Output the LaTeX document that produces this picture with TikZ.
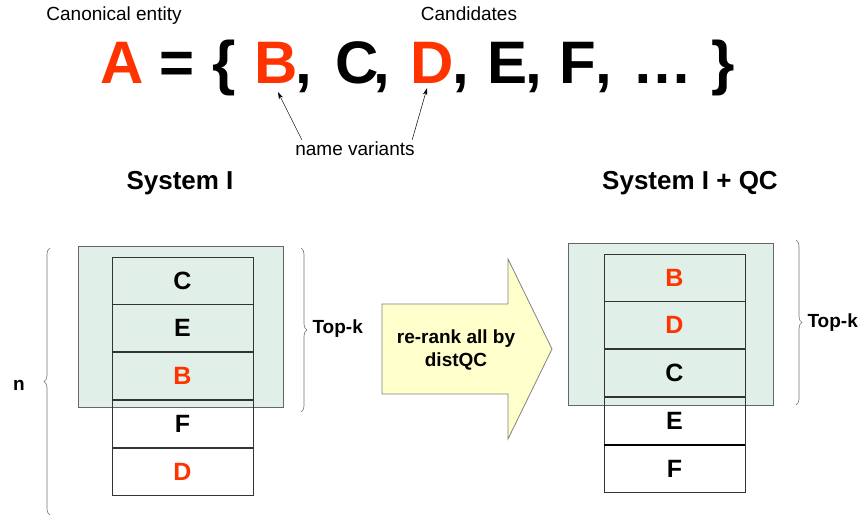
\documentclass[tikz,border=0pt]{standalone}
\usepackage{fontspec}
\setmainfont{Liberation Sans}
\usetikzlibrary{positioning,calc,decorations.pathreplacing,arrows.meta}

\definecolor{candred}{HTML}{FF3300}
\definecolor{boxgreen}{HTML}{E0EFE7}
\definecolor{arrowyellow}{HTML}{FFFFCC}

\begin{document}
\begin{tikzpicture}[x=1pt, y=-1pt,
    big/.style={font=\fontsize{60}{60}\selectfont\bfseries, inner sep=0pt, anchor=base},
    small/.style={font=\fontsize{19}{23}\selectfont},
    smallbold/.style={font=\fontsize{19}{23}\selectfont\bfseries},
    title/.style={font=\fontsize{26}{30}\selectfont\bfseries},
    cell/.style={draw=black!80, line width=0.8pt, minimum width=141pt, minimum height=47pt,
        inner sep=0pt, font=\fontsize{25}{25}\selectfont\bfseries},
    topbox/.style={draw=black!60, fill=boxgreen, line width=0.8pt,
        minimum width=205pt, minimum height=161pt},
    bracket/.style={draw=black!55, line width=0.6pt, decorate, decoration={brace, amplitude=6pt}},
    pointer/.style={-{Stealth[length=7pt,width=4.5pt]}, line width=0.5pt}
]
    \useasboundingbox (0,0) rectangle (863,517);

    %--------------------%
    % Parameters
    %--------------------%
    \def\base{83}
    \def\leftx{182.5}
    \def\rightx{674.5}

    %--------------------%
    % Candidate Set
    %--------------------%
    \node[small, anchor=base] (canon) at (114,20) {Canonical entity};
    \node[small, anchor=base] (cand) at (469,20) {Candidates};

    \node[big, text=candred] (A) at (122,\base) {A};
    \node[big] (eq) at (177,\base) {=};
    \node[big] (lbr) at (224,\base) {\{};
    \node[big, text=candred] (B) at (276,\base) {B};
    \node[big] (c1) at (304,\base) {,};
    \node[big] (C) at (357,\base) {C};
    \node[big] (c2) at (382,\base) {,};
    \node[big, text=candred] (D) at (432,\base) {D};
    \node[big] (c3) at (461,\base) {,};
    \node[big] (E) at (508,\base) {E};
    \node[big] (c4) at (534,\base) {,};
    \node[big] (F) at (578,\base) {F};
    \node[big] (c5) at (604,\base) {,};
    \node[big] (dots) at (662,\base) {…};
    \node[big] (rbr) at (723,\base) {\}};

    % Name variants
    \node[small, anchor=base] (variants) at (355,155) {name variants};
    \draw[pointer] ($(variants.north west)+(10,2)$) -- ($(B.south)+(2,9)$);
    \draw[pointer] ($(variants.north east)+(-6,2)$) -- ($(D.south)+(-5,5)$);

    %--------------------%
    % System I
    %--------------------%
    \node[title] (sys) at (180,183) {System I};
    \node[topbox] (lbox) at (180.5,326.5) {};
    \node[cell] (lc1) at (\leftx,280.5) {C};
    \node[cell, below=0pt of lc1] (lc2) {E};
    \node[cell, below=0pt of lc2, text=candred] (lc3) {B};
    \node[cell, below=0pt of lc3] (lc4) {F};
    \node[cell, below=0pt of lc4, text=candred] (lc5) {D};

    \draw[bracket] (50,515) -- (50,248);
    \node[smallbold, anchor=base] (n) at (19,390) {n};
    \draw[bracket] (301,248) -- (301,412);
    \node[smallbold, anchor=west] (ltopk) at (309,329) {Top-k};

    %--------------------%
    % Re-rank Arrow
    %--------------------%
    \draw[fill=arrowyellow, draw=black!50, line width=0.8pt]
        (382,304) -- (508,304) -- (508,259) -- (552,349) -- (508,439) -- (508,394) -- (382,394) -- cycle;
    \node[smallbold, align=center] (rerank) at (456,350) {re-rank all by\\distQC};

    %--------------------%
    % System I + QC
    %--------------------%
    \node[title] (sysqc) at (690,183) {System I + QC};
    \node[topbox, minimum height=162pt] (rbox) at (670.5,324) {};
    \node[cell, text=candred] (rc1) at (\rightx,277.5) {B};
    \node[cell, below=0pt of rc1, text=candred] (rc2) {D};
    \node[cell, below=0pt of rc2] (rc3) {C};
    \node[cell, below=0pt of rc3] (rc4) {E};
    \node[cell, below=0pt of rc4] (rc5) {F};
    \draw[line width=1.6pt] (rc4.south west) -- (rc4.south east);

    \draw[bracket] (796,240) -- (796,405);
    \node[smallbold, anchor=west] (rtopk) at (804,323) {Top-k};
\end{tikzpicture}
\end{document}
